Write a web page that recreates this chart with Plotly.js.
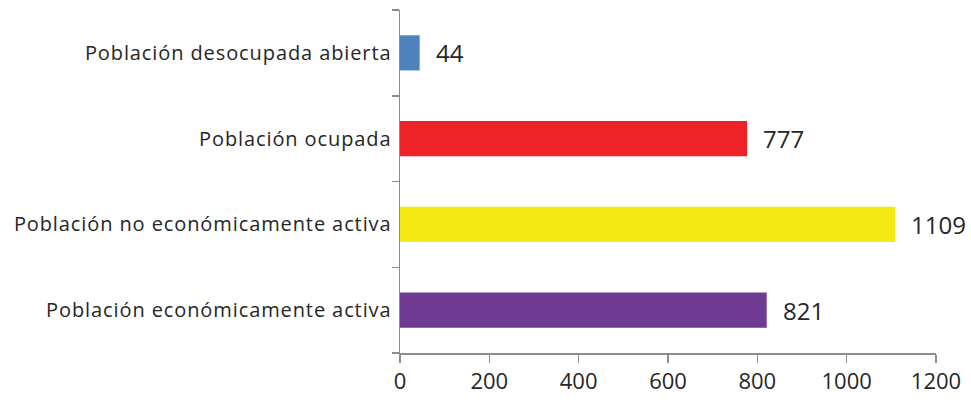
<!DOCTYPE html>
<html><head><meta charset="utf-8">
<script src="https://cdn.plot.ly/plotly-3.0.1.min.js"></script>
<style>body{margin:0;background:#fff}#c{width:971px;height:404px}
#c .ytick text{letter-spacing:0.9px}</style>
</head><body><div id="c"></div>
<script>
const categories = ["Población económicamente activa","Población no económicamente activa","Población ocupada","Población desocupada abierta"];
const values = [821, 1109, 777, 44];
const colors = ["#6F3A92","#F4EA13","#EE2227","#4F81BD"];
const xTicks = [0,200,400,600,800,1000,1200];

const fontFam = "'Open Sans', sans-serif";
const trace = {
  type: "bar", orientation: "h",
  x: values, y: categories,
  marker: {color: colors},
  width: 0.41, hoverinfo: "none"
};
const annotations = values.map((v,i)=>({
  x: v, y: categories[i], xref: "x", yref: "y",
  text: String(v), showarrow: false, xanchor: "left", xshift: 14,
  font: {family: fontFam, size: 24, color: "#262626"}
}));
const layout = {
  width: 971, height: 404,
  margin: {l: 400, r: 35, t: 10, b: 51},
  paper_bgcolor: "#fff", plot_bgcolor: "#fff",
  showlegend: false,
  xaxis: {
    range: [0,1200], tickvals: xTicks, ticktext: xTicks.map(String),
    showgrid: false, zeroline: false,
    showline: true, linecolor: "#8C8C8C", linewidth: 1.5,
    ticks: "outside", ticklen: 8, tickcolor: "#8C8C8C", tickwidth: 1.5,
    tickfont: {family: fontFam, size: 22, color: "#262626"},
    fixedrange: true
  },
  yaxis: {
    type: "category", categoryorder: "array", categoryarray: categories,
    showgrid: false, zeroline: false,
    showline: true, linecolor: "#8C8C8C", linewidth: 1.5,
    ticks: "outside", ticklen: 7, tickcolor: "#8C8C8C", tickwidth: 1.5,
    tickson: "boundaries",
    tickfont: {family: fontFam, size: 20, color: "#262626"},
    ticklabelstandoff: 3,
    fixedrange: true
  },
  annotations: annotations
};
Plotly.newPlot("c", [trace], layout, {displayModeBar: false, staticPlot: true});
</script></body></html>
